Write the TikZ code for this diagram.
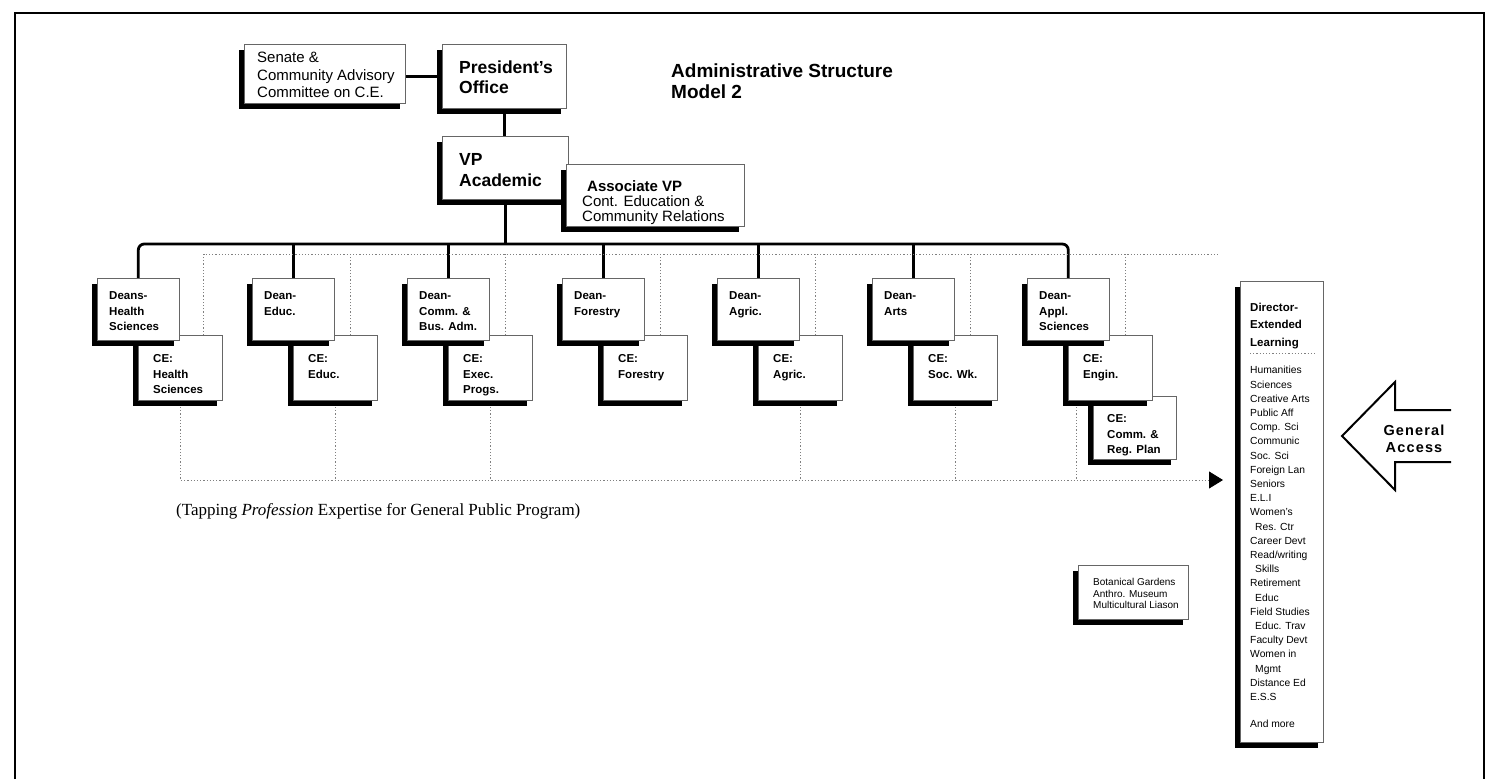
\documentclass[tikz,border=0pt]{standalone}
\usepackage{fontspec}
\setmainfont{Liberation Sans}
\newfontfamily\tapfont{Liberation Serif}
\usetikzlibrary{shadows,arrows.meta,backgrounds}
\begin{document}
\begin{tikzpicture}[x=1pt,y=-1pt,
  box/.style={draw=black!60, line width=0.6pt, fill=white, inner sep=0pt, anchor=north west,
    drop shadow={shadow xshift=-5.5pt, shadow yshift=-5.5pt, fill=black, opacity=1}},
  conn/.style={line width=2.8pt, black},
  dotline/.style={draw=black!50, line width=0.8pt, dash pattern=on 1.2pt off 2pt},
  txt/.style={anchor=north west, inner sep=0pt, align=left},
  deantxt/.style={txt, font=\bfseries\fontsize{11.5}{15.5}\selectfont},
  toptxt/.style={txt, font=\bfseries\fontsize{17.5}{20.5}\selectfont},
  senatetxt/.style={txt, font=\fontsize{15}{17.5}\selectfont},
]
\useasboundingbox (0,0) rectangle (1493,779);

% page frame
\draw[line width=1.8pt] (15,779) -- (15,13) -- (1484,13) -- (1484,779);

% levels of the bus and the two dotted rails
\coordinate (bus) at (0,244);
\coordinate (ue) at (1220,254);
\coordinate (la) at (1223,480);

% ---------- boxes, back to front ----------
\node[box, minimum width=161pt, minimum height=59pt] (sen) at (244,44) {};
\node[box, minimum width=124pt, minimum height=64pt] (pres) at (442,44) {};
\node[box, minimum width=126pt, minimum height=63pt] (vp) at (442,136) {};
\node[box, minimum width=178pt, minimum height=62pt] (avp) at (566,164) {};

% CE boxes sit behind the dean boxes
\node[box, minimum width=83pt, minimum height=63pt] (ccr) at (1093,396) {};
\foreach \nm/\L in {ch/97, ce/252, cx/407, cf/562, cag/717, csw/872, cen/1027}{
  \node[box, minimum width=84pt, minimum height=65pt] (\nm) at (\L+41,335) {};
}
\foreach \nm/\L in {dh/97, de/252, dc/407, df/562, dag/717, dar/872, dap/1027}{
  \node[box, minimum width=82pt, minimum height=62pt] (\nm) at (\L,278) {};
}

\node[box, minimum width=83pt, minimum height=461pt] (dir) at (1240,281) {};
\node[box, minimum width=110pt, minimum height=54pt] (bot) at (1078,565) {};
\draw[dotline] (1250,353) -- (1316,353);

% ---------- connectors, behind the boxes ----------
\begin{scope}[on background layer]
  \draw[conn] (pres.west) -- (pres.west -| sen.east);
  \draw[conn] (pres.south) -- (pres.south |- vp.north);
  \draw[conn] (vp.south) -- (vp.south |- bus);
  \draw[conn, rounded corners=6pt] (dh.north) |- (dap.north |- bus) -- (dap.north);
  \foreach \nm in {de,dc,df,dag,dar}{
    \draw[conn] (\nm.north) -- (\nm.north |- bus);
  }
  % upper dotted rail over the CE units
  \draw[dotline] ([xshift=-19pt]ch.north east) |- (ue);
  \foreach \nm in {ce,cx,cf,cag,csw,cen}{
    \draw[dotline] ([xshift=-27pt]\nm.north east) -- ([xshift=-27pt]\nm.north east |- ue);
  }
  % lower dotted rail into the director's box
  \draw[dotline, -{Triangle[length=14pt,width=17pt,black]}] (ch.south) |- (la);
  \foreach \nm in {ce,cx,cag,csw}{
    \draw[dotline] (\nm.south) -- (\nm.south |- la);
  }
  \draw[dotline] ([xshift=8pt]cen.south west) -- ([xshift=8pt]cen.south west |- la);
\end{scope}

% ---------- texts ----------
\node[senatetxt] (sent) at (257,52) {Senate \&\\Community Advisory\\Committee on C.E.};
\node[toptxt] (prest) at (459,60.5) {President's\\Office};
\node[toptxt] (vpt) at (459,153.7) {VP\\Academic};
\node[txt, font=\fontsize{15}{15.2}\selectfont] (avpt) at (582,180.5)
  {\hspace*{5pt}\textbf{Associate VP}\\Cont. Education \&\\Community Relations};
\node[txt, font=\bfseries\fontsize{19}{21}\selectfont] (title) at (671,63.5)
  {Administrative Structure\\Model 2};

\foreach \nm/\L/\t in {dh/97/{Deans-\\Health\\Sciences}, de/252/{Dean-\\Educ.},
    dc/407/{Dean-\\Comm. \&\\Bus. Adm.}, df/562/{Dean-\\Forestry}, dag/717/{Dean-\\Agric.},
    dar/872/{Dean-\\Arts}, dap/1027/{Dean-\\Appl.\\Sciences}}{
  \node[deantxt] (\nm t) at (\L+12,291.6) {\t};
}
\foreach \nm/\L/\t in {ch/97/{CE:\\Health\\Sciences}, ce/252/{CE:\\Educ.},
    cx/407/{CE:\\Exec.\\Progs.}, cf/562/{CE:\\Forestry}, cag/717/{CE:\\Agric.},
    csw/872/{CE:\\Soc. Wk.}, cen/1027/{CE:\\Engin.}}{
  \node[deantxt] (\nm t) at (\L+56,354.6) {\t};
}
\node[deantxt] (ccrt) at (1107,414.6) {CE:\\Comm. \&\\Reg. Plan};

\node[txt, font=\bfseries\fontsize{11.5}{17.5}\selectfont] (dirt) at (1250,302.6)
  {Director-\\Extended\\Learning};
\node[txt, font=\fontsize{10.3}{14.2}\selectfont] (dirl) at (1250,366.3)
  {Humanities\\Sciences\\Creative Arts\\Public Aff\\Comp. Sci\\Communic\\Soc. Sci\\Foreign Lan\\Seniors\\E.L.I\\Women's\\\hspace*{5pt}Res. Ctr\\Career Devt\\Read/writing\\\hspace*{5pt}Skills\\Retirement\\\hspace*{5pt}Educ\\Field Studies\\\hspace*{5pt}Educ. Trav\\Faculty Devt\\Women in\\\hspace*{5pt}Mgmt\\Distance Ed\\E.S.S\\[13pt]And more};

\node[txt, font=\fontsize{10}{11.2}\selectfont] (bott) at (1093,578.4)
  {Botanical Gardens\\Anthro. Museum\\Multicultural Liason};

% general access arrow
\draw[line width=2pt, line join=miter] (1451,410) -- (1395,410) -- (1395,382) -- (1342,436)
  -- (1395,490) -- (1395,462) -- (1451,462);
\node[align=center, inner sep=0pt, font=\bfseries\fontsize{14.5}{17}\selectfont\addfontfeatures{LetterSpace=8}]
  (gat) at (1414,439) {General\\Access};

\node[anchor=west, inner sep=0pt, font=\tapfont\fontsize{17}{19}\selectfont] (tap) at (176,511)
  {(Tapping \textit{Profession} Expertise for General Public Program)};
\end{tikzpicture}
\end{document}
